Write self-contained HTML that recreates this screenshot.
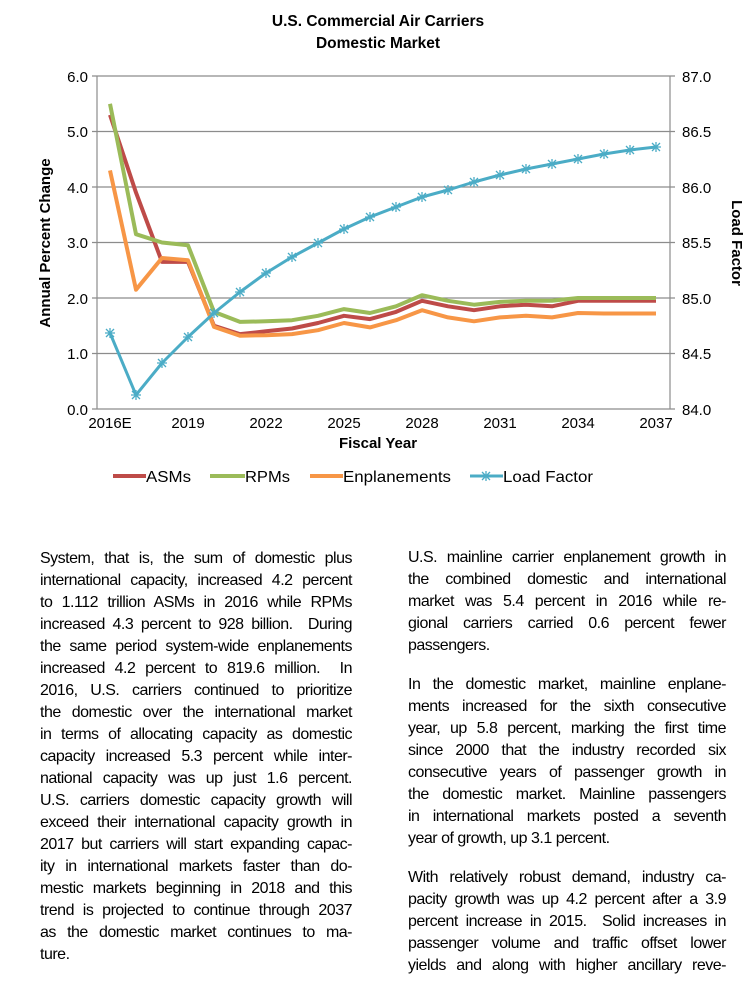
<!DOCTYPE html>
<html><head><meta charset="utf-8"><style>
body{margin:0;width:756px;height:991px;background:#fff;position:relative;overflow:hidden;font-family:"Liberation Sans",Arial,sans-serif;color:#000}
.l{position:absolute;font-size:16px;letter-spacing:-0.5px;white-space:nowrap;text-align:justify;text-align-last:justify;line-height:18px}
.n{text-align-last:left}
</style></head><body>
<svg width="756" height="520" style="position:absolute;left:0;top:0" font-family="Liberation Sans, Arial, sans-serif">
<defs><g id="m" stroke="#4bacc6" stroke-width="1.3"><path d="M-5,0H5M0,-5V5M-4,-4L4,4M-4,4L4,-4"/></g></defs>
<text x="378" y="26" text-anchor="middle" font-size="15.5" font-weight="bold">U.S. Commercial Air Carriers</text>
<text x="378" y="48" text-anchor="middle" font-size="15.5" font-weight="bold">Domestic Market</text>
<g stroke="#8c8c8c" stroke-width="1.2">
<path d="M97,76H670M97,131.5H670M97,187H670M97,242.5H670M97,298H670M97,353.5H670M97,409H670"/>
<path d="M97,76V409M670,76V409M92,76H97M92,131.5H97M92,187H97M92,242.5H97M92,298H97M92,353.5H97M92,409H97M670,76H675M670,131.5H675M670,187H675M670,242.5H675M670,298H675M670,353.5H675M670,409H675"/>
</g>
<g font-size="15" text-anchor="end"><text x="88" y="82">6.0</text><text x="88" y="137">5.0</text><text x="88" y="193">4.0</text><text x="88" y="248">3.0</text><text x="88" y="304">2.0</text><text x="88" y="359">1.0</text><text x="88" y="415">0.0</text></g>
<g font-size="15"><text x="682" y="82">87.0</text><text x="682" y="137">86.5</text><text x="682" y="193">86.0</text><text x="682" y="248">85.5</text><text x="682" y="304">85.0</text><text x="682" y="359">84.5</text><text x="682" y="415">84.0</text></g>
<g font-size="15" text-anchor="middle"><text x="110" y="428">2016E</text><text x="188" y="428">2019</text><text x="266" y="428">2022</text><text x="344" y="428">2025</text><text x="422" y="428">2028</text><text x="500" y="428">2031</text><text x="578" y="428">2034</text><text x="656" y="428">2037</text></g>
<text x="378" y="448" text-anchor="middle" font-size="15" font-weight="bold">Fiscal Year</text>
<text transform="translate(50,243) rotate(-90)" text-anchor="middle" font-size="15" font-weight="bold">Annual Percent Change</text>
<text transform="translate(732,243) rotate(90)" text-anchor="middle" font-size="15" font-weight="bold">Load Factor</text>
<g fill="none" stroke-width="4" stroke-linejoin="round">
<polyline stroke="#be4b48" points="110,114.9 136,192.6 162,261.9 188,261.9 214,325.8 240,334.1 266,331.3 292,328.5 318,323 344,315.8 370,319.1 396,311.9 422,300.8 448,306.3 474,310.2 500,306.3 526,304.7 552,306.3 578,300.8 604,300.8 630,300.8 656,300.8"/>
<polyline stroke="#9bbb59" points="110,103.8 136,234.2 162,242.5 188,245.3 214,311.9 240,321.9 266,321.3 292,320.2 318,315.8 344,309.1 370,313 396,306.3 422,295.2 448,300.8 474,304.7 500,301.9 526,300.8 552,300.8 578,298 604,298 630,298 656,298"/>
<polyline stroke="#f79646" points="110,170.4 136,289.7 162,258 188,260.3 214,326.9 240,335.7 266,335.2 292,334.1 318,330.2 344,323 370,327.4 396,320.2 422,310.2 448,317.4 474,321.3 500,317.4 526,315.8 552,317.4 578,313 604,313.5 630,313.5 656,313.5"/>
<polyline stroke="#4bacc6" stroke-width="3" points="110,333 136,395 162,363 188,337 214,313 240,292 266,273 292,257 318,243 344,229 370,217 396,207 422,197 448,190 474,182 500,175 526,169 552,164 578,159 604,154 630,150 656,147"/>
</g>
<use href="#m" x="110" y="333"/><use href="#m" x="136" y="395"/><use href="#m" x="162" y="363"/><use href="#m" x="188" y="337"/><use href="#m" x="214" y="313"/><use href="#m" x="240" y="292"/><use href="#m" x="266" y="273"/><use href="#m" x="292" y="257"/><use href="#m" x="318" y="243"/><use href="#m" x="344" y="229"/><use href="#m" x="370" y="217"/><use href="#m" x="396" y="207"/><use href="#m" x="422" y="197"/><use href="#m" x="448" y="190"/><use href="#m" x="474" y="182"/><use href="#m" x="500" y="175"/><use href="#m" x="526" y="169"/><use href="#m" x="552" y="164"/><use href="#m" x="578" y="159"/><use href="#m" x="604" y="154"/><use href="#m" x="630" y="150"/><use href="#m" x="656" y="147"/>
<g stroke-width="4"><path stroke="#be4b48" d="M113,476H146"/><path stroke="#9bbb59" d="M210,476H245"/><path stroke="#f79646" d="M310,476H343"/><path stroke="#4bacc6" stroke-width="3" d="M470,476H503"/></g>
<use href="#m" x="486" y="476"/>
<g font-size="16"><text x="146" y="482" textLength="45" lengthAdjust="spacingAndGlyphs">ASMs</text><text x="245" y="482" textLength="45" lengthAdjust="spacingAndGlyphs">RPMs</text><text x="343" y="482" textLength="108" lengthAdjust="spacingAndGlyphs">Enplanements</text><text x="503" y="482" textLength="90" lengthAdjust="spacingAndGlyphs">Load Factor</text></g>
</svg>

<div class="l" style="left:40px;width:312px;top:550px">System, that is, the sum of domestic plus</div>
<div class="l" style="left:40px;width:312px;top:572px">international capacity, increased 4.2 percent</div>
<div class="l" style="left:40px;width:312px;top:594px">to 1.112 trillion ASMs in 2016 while RPMs</div>
<div class="l" style="left:40px;width:312px;top:616px">increased 4.3 percent to 928 billion.&nbsp; During</div>
<div class="l" style="left:40px;width:312px;top:638px">the same period system-wide enplanements</div>
<div class="l" style="left:40px;width:312px;top:660px">increased 4.2 percent to 819.6 million.&nbsp; In</div>
<div class="l" style="left:40px;width:312px;top:682px">2016, U.S. carriers continued to prioritize</div>
<div class="l" style="left:40px;width:312px;top:704px">the domestic over the international market</div>
<div class="l" style="left:40px;width:312px;top:726px">in terms of allocating capacity as domestic</div>
<div class="l" style="left:40px;width:312px;top:748px">capacity increased 5.3 percent while inter-</div>
<div class="l" style="left:40px;width:312px;top:770px">national capacity was up just 1.6 percent.</div>
<div class="l" style="left:40px;width:312px;top:792px">U.S. carriers domestic capacity growth will</div>
<div class="l" style="left:40px;width:312px;top:814px">exceed their international capacity growth in</div>
<div class="l" style="left:40px;width:312px;top:836px">2017 but carriers will start expanding capac-</div>
<div class="l" style="left:40px;width:312px;top:858px">ity in international markets faster than do-</div>
<div class="l" style="left:40px;width:312px;top:880px">mestic markets beginning in 2018 and this</div>
<div class="l" style="left:40px;width:312px;top:902px">trend is projected to continue through 2037</div>
<div class="l" style="left:40px;width:312px;top:924px">as the domestic market continues to ma-</div>
<div class="l n" style="left:40px;width:312px;top:946px">ture.</div>

<div class="l" style="left:408px;width:318px;top:549px">U.S. mainline carrier enplanement growth in</div>
<div class="l" style="left:408px;width:318px;top:571px">the combined domestic and international</div>
<div class="l" style="left:408px;width:318px;top:593px">market was 5.4 percent in 2016 while re-</div>
<div class="l" style="left:408px;width:318px;top:615px">gional carriers carried 0.6 percent fewer</div>
<div class="l n" style="left:408px;width:318px;top:637px">passengers.</div>
<div class="l" style="left:408px;width:318px;top:676px">In the domestic market, mainline enplane-</div>
<div class="l" style="left:408px;width:318px;top:698px">ments increased for the sixth consecutive</div>
<div class="l" style="left:408px;width:318px;top:720px">year, up 5.8 percent, marking the first time</div>
<div class="l" style="left:408px;width:318px;top:742px">since 2000 that the industry recorded six</div>
<div class="l" style="left:408px;width:318px;top:764px">consecutive years of passenger growth in</div>
<div class="l" style="left:408px;width:318px;top:786px">the domestic market. Mainline passengers</div>
<div class="l" style="left:408px;width:318px;top:808px">in international markets posted a seventh</div>
<div class="l n" style="left:408px;width:318px;top:830px">year of growth, up 3.1 percent.</div>
<div class="l" style="left:408px;width:318px;top:869px">With relatively robust demand, industry ca-</div>
<div class="l" style="left:408px;width:318px;top:891px">pacity growth was up 4.2 percent after a 3.9</div>
<div class="l" style="left:408px;width:318px;top:913px">percent increase in 2015.&nbsp; Solid increases in</div>
<div class="l" style="left:408px;width:318px;top:935px">passenger volume and traffic offset lower</div>
<div class="l" style="left:408px;width:318px;top:957px">yields and along with higher ancillary reve-</div>
</body></html>
